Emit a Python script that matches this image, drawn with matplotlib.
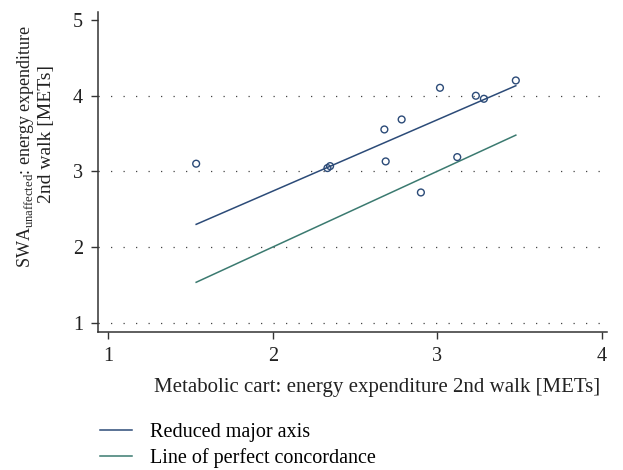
import numpy as np
import matplotlib
matplotlib.use('Agg')
from matplotlib import pyplot as plt
from matplotlib.lines import Line2D

plt.rcParams['font.family'] = 'Liberation Serif'
plt.rcParams['mathtext.fontset'] = 'custom'
plt.rcParams['mathtext.rm'] = 'Liberation Serif'

# data
cart_mets = [1.534, 2.332, 2.348, 2.678, 2.783, 2.686, 2.900, 3.016, 3.121, 3.234, 3.283, 3.477]
swa_mets = [3.10, 3.042, 3.068, 3.552, 3.684, 3.130, 2.72, 4.102, 3.187, 3.997, 3.957, 4.199]
rma_intercept = 0.854
rma_slope = 0.942
x_ticks = [1, 2, 3, 4]
y_ticks = [1, 2, 3, 4, 5]

navy = '#2c4b78'
teal = '#3b7a70'
txt = '#222222'

fig = plt.figure(figsize=(6.23, 4.70), dpi=100)
ax = fig.add_axes([0.158, 0.294, 0.816, 0.68])

xs = np.array([min(cart_mets), max(cart_mets)])
for yv in [1, 2, 3, 4]:
    ax.axhline(yv, color='#444444', lw=0.9, linestyle=(0, (1, 9)), zorder=0)

ax.plot(xs, rma_intercept + rma_slope * xs, color=navy, lw=1.1)
ax.plot(xs, xs, color=teal, lw=1.1)
ax.scatter(cart_mets, swa_mets, s=24, facecolors='none', edgecolors=navy, linewidths=1.0, zorder=3)

ax.set_xlim(0.94, 4.03)
ax.set_ylim(0.88, 5.1)
ax.set_xticks(x_ticks)
ax.set_yticks(y_ticks)
ax.tick_params(direction='out', length=5, width=1, color='#333333', labelsize=14.5, pad=6, labelcolor=txt)
for s in ['top', 'right']:
    ax.spines[s].set_visible(False)
for s in ['left', 'bottom']:
    ax.spines[s].set_color('#333333')
    ax.spines[s].set_linewidth(1.1)

ax.set_xlabel('Metabolic cart: energy expenditure 2nd walk [METs]', fontsize=15, color=txt)
ax.xaxis.set_label_coords(0.548, -0.145)

# y label as two rotated lines
fig.text(26 / 623, 1 - 146 / 470, 'SWA$_{\\mathrm{unaffected}}$: energy expenditure', rotation=90,
         ha='center', va='center', fontsize=13, color=txt)
fig.text(47 / 623, 1 - 134 / 470, '2nd walk [METs]', rotation=90,
         ha='center', va='center', fontsize=14, color=txt)

handles = [Line2D([], [], color=navy, lw=1.1), Line2D([], [], color=teal, lw=1.1)]
fig.legend(handles, ['Reduced major axis', 'Line of perfect concordance'], loc='upper left',
           bbox_to_anchor=(0.147, 0.118), frameon=False, fontsize=14.5, handlelength=1.6,
           handletextpad=0.9, labelspacing=0.3, borderaxespad=0)

fig.savefig('out.png', dpi=100)
